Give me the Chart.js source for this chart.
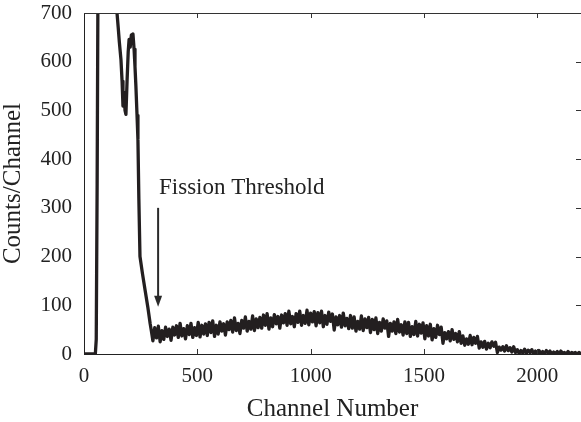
<!DOCTYPE html>
<html>
<head>
<meta charset="utf-8">
<script src="https://cdn.jsdelivr.net/npm/chart.js@4/dist/chart.umd.min.js"></script>
<style>
  html, body { margin: 0; padding: 0; background: #fff; }
  #wrap { width: 581px; height: 422px; }
</style>
</head>
<body>
<div id="wrap"><canvas id="spec"></canvas></div>
<script>
// ====== Data ======
// low-channel peak region
const peakChannels = [0, 50, 54, 58, 62, 66, 138, 146, 151, 156, 163, 168, 172, 177, 181, 185, 190, 195, 199,
  204, 209, 213, 216, 221, 225, 229, 234, 238, 242, 247, 258, 270, 282, 292, 298];
const peakCounts = [0, 0, 30, 350, 800, 3000, 3000, 698, 670, 640, 605, 560, 509, 537, 500, 492, 560, 620, 646,
  630, 655, 640, 657, 626, 590, 550, 490, 440, 320, 200, 165, 130, 95, 62, 45];

// fission bump (noisy band)
const bumpChannels = [
  304, 312, 320, 328, 336, 344, 352, 360, 368, 376,
  384, 392, 400, 408, 416, 424, 432, 440, 448, 456,
  464, 472, 480, 488, 496, 504, 512, 520, 528, 536,
  544, 552, 560, 568, 576, 584, 592, 600, 608, 616,
  624, 632, 640, 648, 656, 664, 672, 680, 688, 696,
  704, 712, 720, 728, 736, 744, 752, 760, 768, 776,
  784, 792, 800, 808, 816, 824, 832, 840, 848, 856,
  864, 872, 880, 888, 896, 904, 912, 920, 928, 936,
  944, 952, 960, 968, 976, 984, 992, 1000, 1008, 1016,
  1024, 1032, 1040, 1048, 1056, 1064, 1072, 1080, 1088, 1096,
  1104, 1112, 1120, 1128, 1136, 1144, 1152, 1160, 1168, 1176,
  1184, 1192, 1200, 1208, 1216, 1224, 1232, 1240, 1248, 1256,
  1264, 1272, 1280, 1288, 1296, 1304, 1312, 1320, 1328, 1336,
  1344, 1352, 1360, 1368, 1376, 1384, 1392, 1400, 1408, 1416,
  1424, 1432, 1440, 1448, 1456, 1464, 1472, 1480, 1488, 1496,
  1504, 1512, 1520, 1528, 1536, 1544, 1552, 1560, 1568, 1576,
  1584, 1592, 1600, 1608, 1616, 1624, 1632, 1640, 1648, 1656,
  1664, 1672, 1680, 1688, 1696, 1704, 1712, 1720, 1728, 1736,
  1744, 1752, 1760, 1768, 1776, 1784, 1792, 1800, 1808, 1816,
  1824, 1832, 1840, 1848, 1856, 1864, 1872, 1880, 1888, 1896,
  1904, 1912, 1920, 1928, 1936, 1944, 1952, 1960, 1968, 1976,
  1984, 1992, 2000, 2008, 2016, 2024, 2032, 2040, 2048, 2056,
  2064, 2072, 2080, 2088, 2096, 2104, 2112, 2120, 2128, 2136,
  2144, 2152, 2160, 2168, 2176, 2184, 2192
];
const bumpCounts = [
  27, 54, 33, 57, 25, 48, 30, 55, 36, 51,
  28, 55, 39, 58, 34, 63, 37, 52, 31, 58,
  40, 63, 34, 54, 38, 65, 35, 59, 41, 62,
  38, 65, 44, 68, 36, 59, 41, 66, 47, 62,
  39, 66, 50, 69, 45, 74, 48, 63, 42, 69,
  53, 76, 47, 67, 51, 78, 48, 72, 54, 75,
  53, 80, 59, 83, 51, 74, 56, 81, 62, 77,
  53, 80, 64, 83, 59, 88, 62, 77, 56, 83,
  65, 88, 59, 79, 63, 90, 60, 84, 66, 87,
  58, 85, 64, 88, 56, 79, 61, 86, 67, 82,
  49, 76, 60, 79, 55, 84, 58, 73, 52, 79,
  53, 76, 47, 67, 51, 78, 48, 72, 54, 75,
  44, 71, 50, 74, 42, 65, 47, 72, 53, 68,
  36, 63, 47, 66, 42, 71, 45, 60, 39, 66,
  42, 65, 36, 56, 40, 67, 37, 61, 43, 64,
  31, 58, 37, 61, 29, 52, 34, 59, 40, 55,
  22, 44, 31, 46, 27, 50, 30, 42, 25, 46,
  22, 37, 18, 31, 20, 38, 19, 34, 22, 36,
  12, 25, 14, 26, 10, 22, 13, 25, 16, 24,
  3, 14, 8, 15, 6, 17, 7, 13, 4, 15,
  3, 9, 1, 7, 2, 10, 1, 8, 3, 9,
  0, 6, 1, 7, 0, 5, 1, 7, 2, 6,
  0, 4, 1, 5, 0, 6, 1, 3, 0, 5,
  0, 3, 1, 3, 0, 3, 1
];

const xTickValues = [0, 500, 1000, 1500, 2000];
const yTickValues = [0, 100, 200, 300, 400, 500, 600, 700];

// annotation (data units)
const noteText = "Fission Threshold";
const noteX = 331, noteY = 329;          // text left / baseline
const arrowX = 327, arrowTop = 300, arrowTip = 97;

// ====== Chart ======
const SERIF = "'Liberation Serif', 'Times New Roman', serif";
const INK = "#222";

const points = [];
peakChannels.forEach((c, i) => points.push({ x: c, y: peakCounts[i] }));
bumpChannels.forEach((c, i) => points.push({ x: c, y: bumpCounts[i] }));

// frame ticks (inside) + top border + arrow label
const framePlugin = {
  id: "frame",
  afterDraw(chart) {
    const { ctx, chartArea: a, scales: { x, y } } = chart;
    ctx.save();
    ctx.strokeStyle = "#333";
    ctx.lineWidth = 1;
    ctx.beginPath();
    ctx.moveTo(a.left, a.top + 0.5);
    ctx.lineTo(a.right, a.top + 0.5);
    for (const v of xTickValues.slice(1)) {
      const px = Math.round(x.getPixelForValue(v)) + 0.5;
      ctx.moveTo(px, a.top); ctx.lineTo(px, a.top + 5);
      ctx.moveTo(px, a.bottom); ctx.lineTo(px, a.bottom - 5);
    }
    for (const v of yTickValues.slice(1, -1)) {
      const py = Math.round(y.getPixelForValue(v)) + 0.5;
      ctx.moveTo(a.right, py); ctx.lineTo(a.right - 5, py);
    }
    ctx.stroke();

    // arrow
    const ax = x.getPixelForValue(arrowX);
    const at = y.getPixelForValue(arrowTop);
    const tip = y.getPixelForValue(arrowTip);
    ctx.strokeStyle = "#2a2a2a";
    ctx.fillStyle = "#2a2a2a";
    ctx.lineWidth = 2;
    ctx.beginPath();
    ctx.moveTo(ax, at);
    ctx.lineTo(ax, tip - 8);
    ctx.stroke();
    ctx.beginPath();
    ctx.moveTo(ax - 4, tip - 11);
    ctx.lineTo(ax + 4, tip - 11);
    ctx.lineTo(ax, tip);
    ctx.closePath();
    ctx.fill();

    ctx.fillStyle = INK;
    ctx.font = "23px " + SERIF;
    ctx.textAlign = "left";
    ctx.textBaseline = "alphabetic";
    ctx.fillText(noteText, x.getPixelForValue(noteX), y.getPixelForValue(noteY));
    ctx.restore();
  }
};

new Chart(document.getElementById("spec"), {
  type: "line",
  data: {
    datasets: [{
      data: points,
      borderColor: "#231f20",
      borderWidth: 3.3,
      borderJoinStyle: "round",
      borderCapStyle: "round",
      pointRadius: 0,
      tension: 0,
      fill: false
    }]
  },
  options: {
    responsive: true,
    maintainAspectRatio: false,
    animation: false,
    events: [],
    layout: { padding: { top: 13, right: 0, left: 0, bottom: 0 } },
    plugins: { legend: { display: false }, tooltip: { enabled: false } },
    scales: {
      x: {
        type: "linear",
        min: 0,
        max: 2193,
        afterFit: (s) => { s.height = 68; s.paddingLeft = 0; s.paddingRight = 0; },
        afterBuildTicks: (s) => { s.ticks = xTickValues.map(v => ({ value: v })); },
        grid: { display: false, drawTicks: false },
        border: { display: true, color: "#222", width: 1 },
        ticks: {
          color: INK, padding: 10, font: { family: SERIF, size: 21 }, maxRotation: 0,
          callback: (v) => String(v)
        },
        title: {
          display: true, text: "Channel Number", color: INK,
          font: { family: SERIF, size: 25, lineHeight: 1 }, padding: 0
        }
      },
      y: {
        min: 0,
        max: 700,
        afterFit: (s) => { s.width = 84; s.paddingTop = 0; s.paddingBottom = 0; },
        afterBuildTicks: (s) => { s.ticks = yTickValues.map(v => ({ value: v })); },
        grid: { display: false, drawTicks: false },
        border: { display: true, color: "#222", width: 1 },
        ticks: { color: INK, padding: 12, font: { family: SERIF, size: 21 }, callback: (v) => String(v) },
        title: {
          display: true, text: "Counts/Channel", color: INK,
          font: { family: SERIF, size: 25, lineHeight: 1 }, padding: { top: 1 }
        }
      }
    }
  },
  plugins: [framePlugin]
});
</script>
</body>
</html>
